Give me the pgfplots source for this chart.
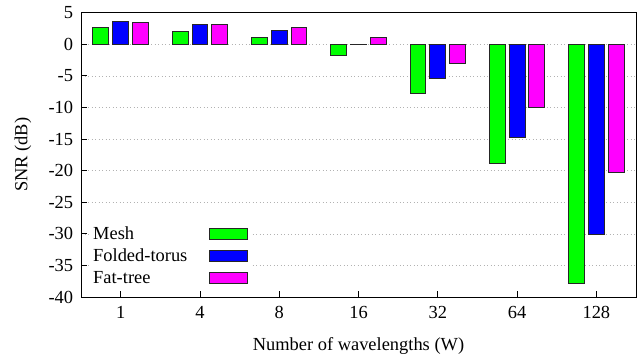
\documentclass[border=0pt]{standalone}
\usepackage{pgfplots}
\pgfplotsset{compat=1.18}
\usepackage{fontspec}
\setmainfont{Liberation Serif}
\definecolor{cgreen}{RGB}{0,255,0}
\definecolor{cblue}{RGB}{0,0,255}
\definecolor{cmag}{RGB}{255,0,255}
\pgfplotsset{mylegend/.style={legend image code/.code={\draw[##1,line width=1bp] (0bp,-4.5bp) rectangle (38bp,6.5bp);}}}
\begin{document}
\begin{tikzpicture}[font=\fontsize{18.5}{21}\selectfont]
\begin{axis}[name=ax, scale only axis, width=555bp, height=284.3bp,
  xmin=-0.5, xmax=6.5, ymin=-40, ymax=5,
  ybar, bar width=0.2,
  xtick={0,...,6}, xticklabels={1,4,8,16,32,64,128},
  ytick={-40,-35,...,5}, yticklabels={-40,-35,-30,-25,-20,-15,-10,-5,0,5},
  tick align=inside, xtick pos=bottom, ytick pos=left, major tick length=6bp,
  tick style={black, line width=0.8bp},
  axis line style={line width=1bp},
  ymajorgrids, major grid style={gray!60, dash pattern=on 1bp off 2.5bp, line width=0.6bp},
  xticklabel style={inner sep=0pt, anchor=north, yshift=-9bp},
  yticklabel style={inner sep=0pt, anchor=east, xshift=-7.7bp},
  xlabel={Number of wavelengths (W)},
  xlabel style={at={(axis description cs:0.5,-0.1713)}, anchor=center},
  ylabel={SNR (dB)},
  ylabel style={at={(axis description cs:-0.1045,0.5)}, anchor=center, rotate=0},
  legend style={at={(axis description cs:0.0162,0.2603)}, anchor=north west, draw=none, fill=white, inner sep=3bp, row sep=5bp, column sep=22bp, nodes={inner sep=0pt, text height=13bp, text depth=4bp}},
  legend cell align=left, legend plot pos=right,
]
\addplot[bar shift=-0.25, fill=cgreen, draw=black!85, line width=1bp, mylegend] coordinates {(0,2.7) (1,2.1) (2,1.1) (3,-1.7) (4,-7.8) (5,-18.8) (6,-37.9)};
\addlegendentry{Mesh}
\addplot[bar shift=0, fill=cblue, draw=black!85, line width=1bp, mylegend] coordinates {(0,3.6) (1,3.15) (2,2.25) (3,-0.1) (4,-5.4) (5,-14.7) (6,-30.1)};
\addlegendentry{Folded-torus}
\addplot[bar shift=0.25, fill=cmag, draw=black!85, line width=1bp, mylegend] coordinates {(0,3.4) (1,3.2) (2,2.6) (3,1.0) (4,-3.0) (5,-10.0) (6,-20.3)};
\addlegendentry{Fat-tree}
\end{axis}
\pgfresetboundingbox
\path ([shift={(-81bp,-63bp)}]ax.south west) rectangle ([shift={(3bp,12.7bp)}]ax.north east);
\end{tikzpicture}
\end{document}
